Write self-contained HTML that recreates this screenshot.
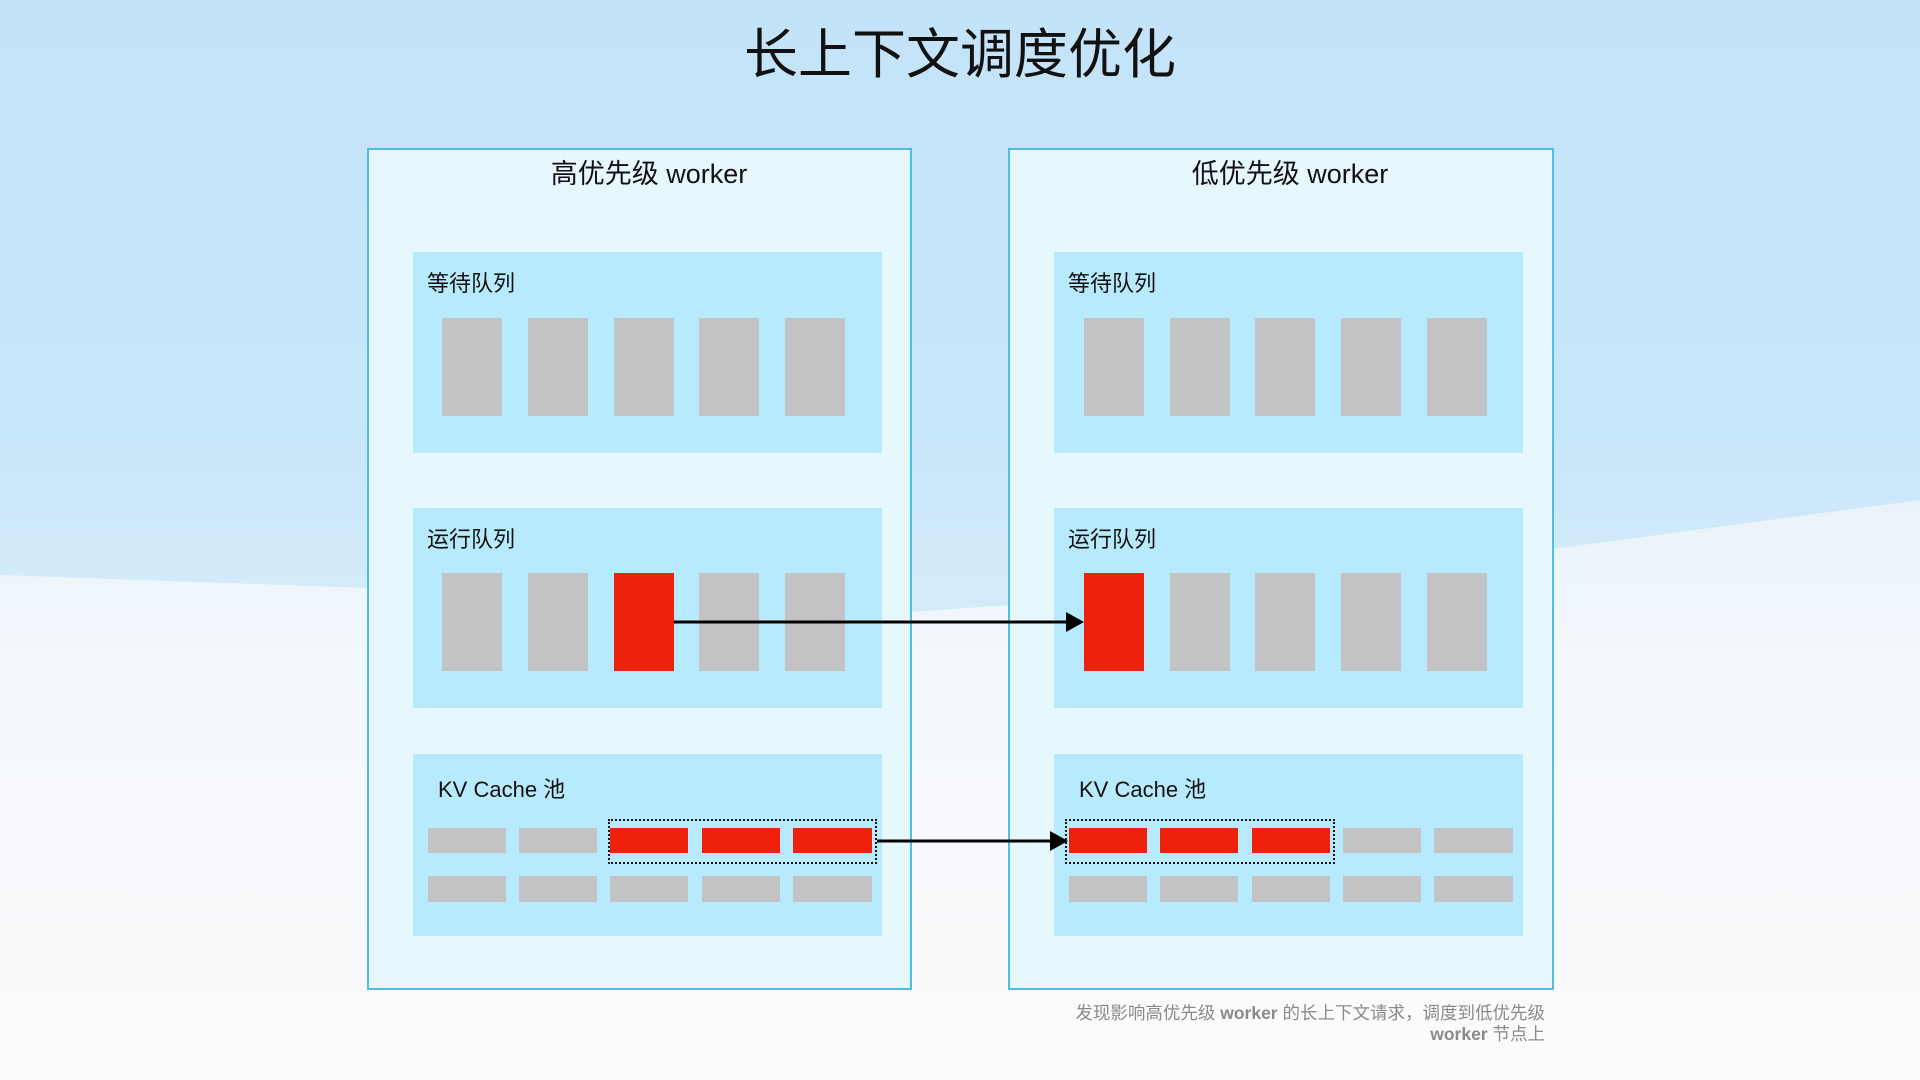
<!DOCTYPE html>
<html><head><meta charset="utf-8"><style>
html,body{margin:0;padding:0;}
body{width:1920px;height:1080px;position:relative;overflow:hidden;font-family:"Liberation Sans","Noto Sans CJK SC",sans-serif;background:linear-gradient(180deg,#c3e3f9 0%,#c8e6fa 40%,#d3ebf9 55%);}
.abs{position:absolute;}
.outer{position:absolute;background:#e6f7fe;border:2px solid #4fbde4;box-sizing:border-box;}
.sec{position:absolute;background:#b6eafc;}
.g{position:absolute;background:#c3c3c3;}
.r{position:absolute;background:#ee220c;}
.lab{position:absolute;font-size:22px;color:#111;white-space:nowrap;}
.ttl{position:absolute;font-size:27px;color:#111;white-space:nowrap;transform:translateX(-50%);}
.dash{position:absolute;border:2px dotted #111;box-sizing:border-box;}
</style></head><body>
<svg class="abs" style="left:0;top:0" width="1920" height="1080">
<defs><linearGradient id="wg" x1="0" y1="0" x2="0" y2="1">
<stop offset="0" stop-color="#eaf3fa"/><stop offset="0.4" stop-color="#f6f9fc"/><stop offset="1" stop-color="#fcfafd"/></linearGradient></defs>
<polygon points="0,575 370,588 910,612 1010,605 1560,548 1920,500 1920,1080 0,1080" fill="url(#wg)"/>
</svg>
<div class="abs" style="left:0;width:1920px;top:10px;text-align:center;font-size:54px;color:#111;">长上下文调度优化</div>

<div class="outer" style="left:367px;top:148px;width:545px;height:842px;"></div>
<div class="outer" style="left:1008px;top:148px;width:546px;height:842px;"></div>
<div class="ttl" style="left:649px;top:152px;">高优先级 worker</div>
<div class="ttl" style="left:1290px;top:152px;">低优先级 worker</div>

<div class="sec" style="left:413px;top:252px;width:469px;height:201px;"></div>
<div class="sec" style="left:413px;top:508px;width:469px;height:200px;"></div>
<div class="sec" style="left:413px;top:754px;width:469px;height:182px;"></div>
<div class="sec" style="left:1054px;top:252px;width:469px;height:201px;"></div>
<div class="sec" style="left:1054px;top:508px;width:469px;height:200px;"></div>
<div class="sec" style="left:1054px;top:754px;width:469px;height:182px;"></div>

<div class="lab" style="left:427px;top:266px;">等待队列</div>
<div class="lab" style="left:427px;top:522px;">运行队列</div>
<div class="lab" style="left:438px;top:772px;">KV Cache 池</div>
<div class="lab" style="left:1068px;top:266px;">等待队列</div>
<div class="lab" style="left:1068px;top:522px;">运行队列</div>
<div class="lab" style="left:1079px;top:772px;">KV Cache 池</div>

<div class="g" style="left:442px;top:318px;width:60px;height:98px;"></div>
<div class="g" style="left:528px;top:318px;width:60px;height:98px;"></div>
<div class="g" style="left:614px;top:318px;width:60px;height:98px;"></div>
<div class="g" style="left:699px;top:318px;width:60px;height:98px;"></div>
<div class="g" style="left:785px;top:318px;width:60px;height:98px;"></div>
<div class="g" style="left:442px;top:573px;width:60px;height:98px;"></div>
<div class="g" style="left:528px;top:573px;width:60px;height:98px;"></div>
<div class="r" style="left:614px;top:573px;width:60px;height:98px;"></div>
<div class="g" style="left:699px;top:573px;width:60px;height:98px;"></div>
<div class="g" style="left:785px;top:573px;width:60px;height:98px;"></div>
<div class="g" style="left:1084px;top:318px;width:60px;height:98px;"></div>
<div class="g" style="left:1170px;top:318px;width:60px;height:98px;"></div>
<div class="g" style="left:1255px;top:318px;width:60px;height:98px;"></div>
<div class="g" style="left:1341px;top:318px;width:60px;height:98px;"></div>
<div class="g" style="left:1427px;top:318px;width:60px;height:98px;"></div>
<div class="r" style="left:1084px;top:573px;width:60px;height:98px;"></div>
<div class="g" style="left:1170px;top:573px;width:60px;height:98px;"></div>
<div class="g" style="left:1255px;top:573px;width:60px;height:98px;"></div>
<div class="g" style="left:1341px;top:573px;width:60px;height:98px;"></div>
<div class="g" style="left:1427px;top:573px;width:60px;height:98px;"></div>

<div class="g" style="left:428px;top:828px;width:78px;height:25px;"></div>
<div class="g" style="left:519px;top:828px;width:78px;height:25px;"></div>
<div class="r" style="left:610px;top:828px;width:78px;height:25px;"></div>
<div class="r" style="left:702px;top:828px;width:78px;height:25px;"></div>
<div class="r" style="left:793px;top:828px;width:79px;height:25px;"></div>
<div class="g" style="left:428px;top:876px;width:78px;height:26px;"></div>
<div class="g" style="left:519px;top:876px;width:78px;height:26px;"></div>
<div class="g" style="left:610px;top:876px;width:78px;height:26px;"></div>
<div class="g" style="left:702px;top:876px;width:78px;height:26px;"></div>
<div class="g" style="left:793px;top:876px;width:79px;height:26px;"></div>
<div class="dash" style="left:608px;top:819px;width:269px;height:45px;"></div>
<div class="r" style="left:1069px;top:828px;width:78px;height:25px;"></div>
<div class="r" style="left:1160px;top:828px;width:78px;height:25px;"></div>
<div class="r" style="left:1252px;top:828px;width:78px;height:25px;"></div>
<div class="g" style="left:1343px;top:828px;width:78px;height:25px;"></div>
<div class="g" style="left:1434px;top:828px;width:79px;height:25px;"></div>
<div class="g" style="left:1069px;top:876px;width:78px;height:26px;"></div>
<div class="g" style="left:1160px;top:876px;width:78px;height:26px;"></div>
<div class="g" style="left:1252px;top:876px;width:78px;height:26px;"></div>
<div class="g" style="left:1343px;top:876px;width:78px;height:26px;"></div>
<div class="g" style="left:1434px;top:876px;width:79px;height:26px;"></div>
<div class="dash" style="left:1065px;top:819px;width:270px;height:45px;"></div>

<svg class="abs" style="left:0;top:0" width="1920" height="1080">
<line x1="674" y1="622" x2="1068" y2="622" stroke="#000" stroke-width="3"/>
<polygon points="1084,622 1066,612 1066,632" fill="#000"/>
<line x1="877" y1="841" x2="1052" y2="841" stroke="#000" stroke-width="3"/>
<polygon points="1068,841 1050,831 1050,851" fill="#000"/>
</svg>

<div class="abs" style="left:0;width:1545px;top:1003px;text-align:right;font-size:17.5px;line-height:21px;color:#8a8a8a;">发现影响高优先级 <b>worker</b> 的长上下文请求，调度到低优先级<br><b>worker</b> 节点上</div>
</body></html>
